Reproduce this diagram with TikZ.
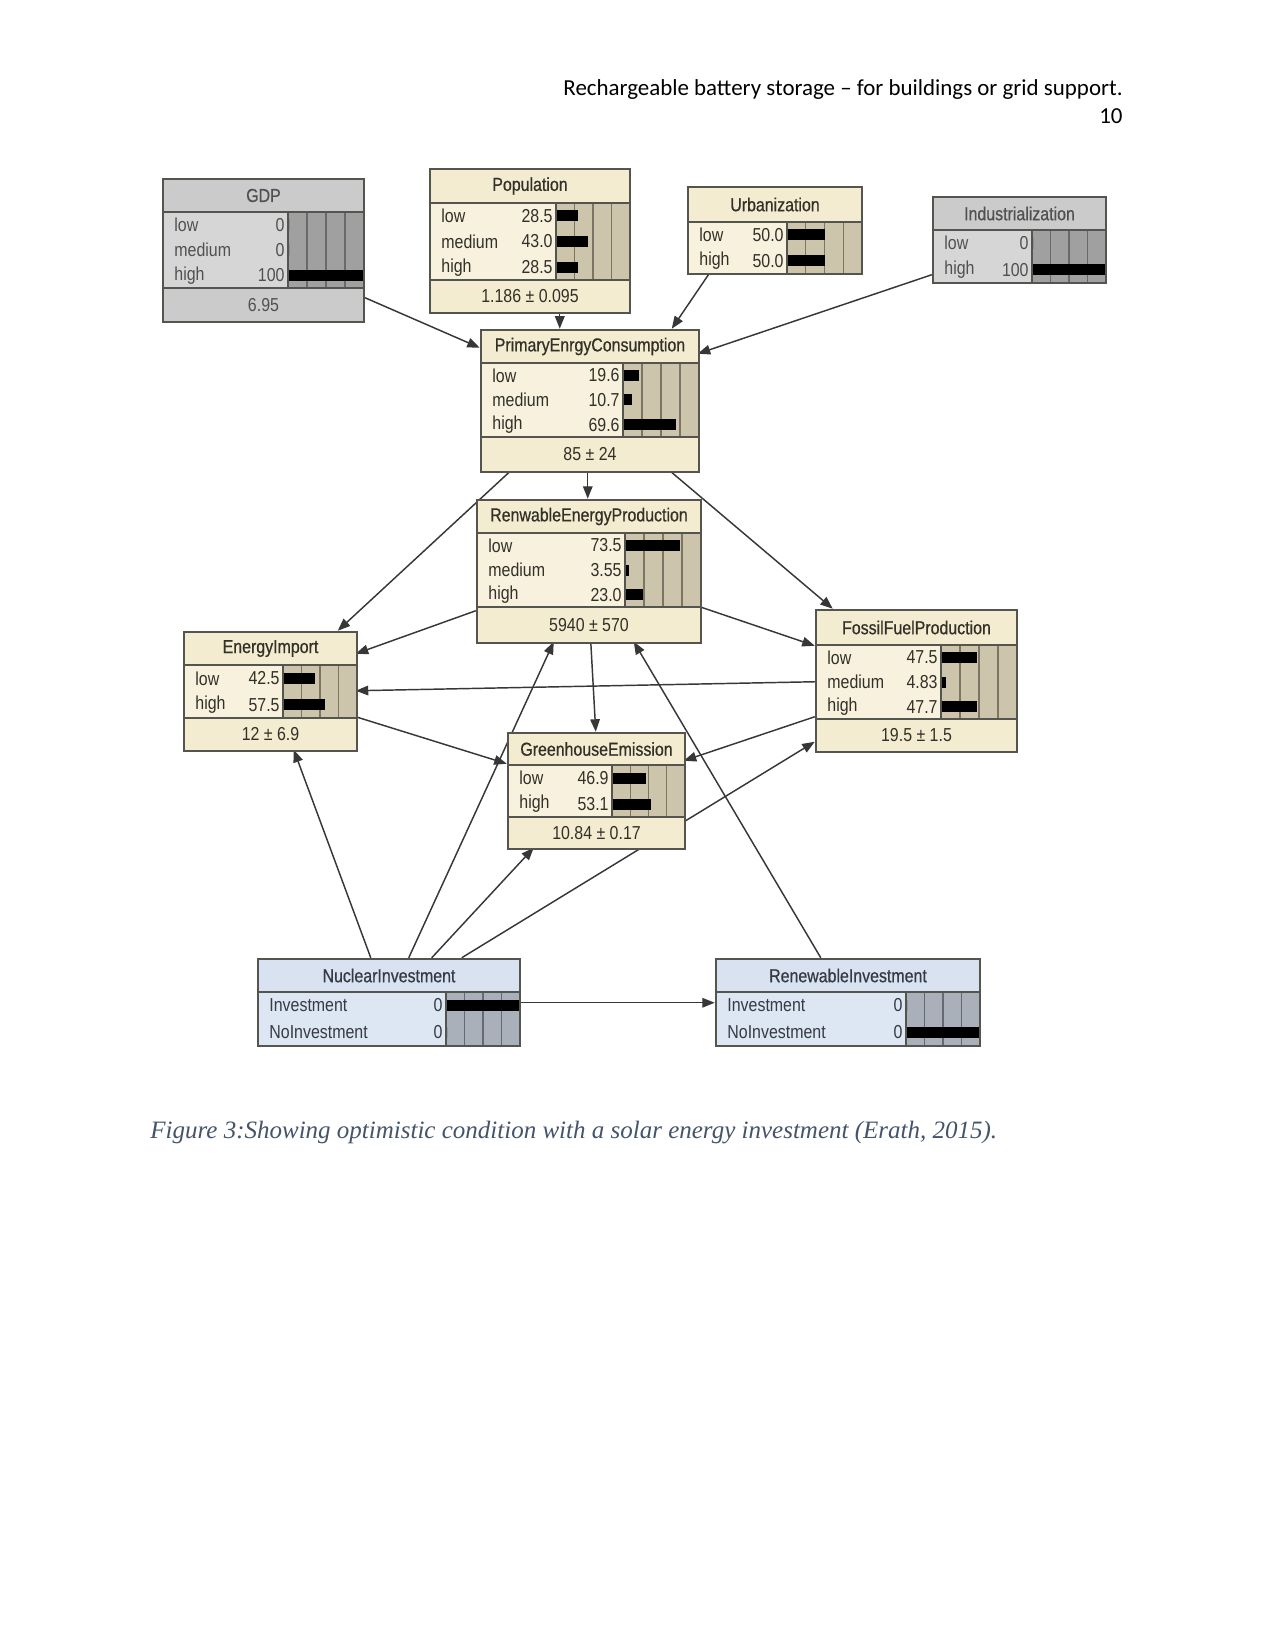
\documentclass[tikz,border=0pt]{standalone}
\usepackage{fontspec}
\usetikzlibrary{fit,calc,arrows.meta}
\newfontfamily\netfont[FakeStretch=0.85]{Liberation Sans}
\newfontfamily\netfontb[FakeStretch=0.85,FakeBold=0.6]{Liberation Sans}
\newfontfamily\hdrfont{Carlito}
\newfontfamily\capfont{Liberation Serif}
\definecolor{beigeT}{RGB}{244,236,208}
\definecolor{beigeD}{RGB}{247,241,222}
\definecolor{beigeB}{RGB}{205,196,172}
\definecolor{beigeL}{RGB}{125,117,100}
\definecolor{beigeX}{RGB}{50,48,40}
\definecolor{grayT}{RGB}{203,203,203}
\definecolor{grayD}{RGB}{214,214,214}
\definecolor{grayB}{RGB}{160,160,160}
\definecolor{grayL}{RGB}{105,105,105}
\definecolor{grayX}{RGB}{80,80,80}
\definecolor{blueT}{RGB}{216,226,240}
\definecolor{blueD}{RGB}{221,230,243}
\definecolor{blueB}{RGB}{170,176,186}
\definecolor{blueL}{RGB}{100,105,115}
\definecolor{blueX}{RGB}{55,58,66}
\definecolor{cframe}{RGB}{85,85,80}
\definecolor{cline}{RGB}{55,55,55}
\definecolor{capcol}{RGB}{68,84,106}
\pgfdeclarelayer{paper}
\pgfdeclarelayer{bg}
\pgfsetlayers{paper,bg,main}
\newcommand\schemebeige{\colorlet{ctitle}{beigeT}\colorlet{cdata}{beigeD}\colorlet{cbar}{beigeB}\colorlet{cbarline}{beigeL}\colorlet{ctext}{beigeX}}
\newcommand\schemegray{\colorlet{ctitle}{grayT}\colorlet{cdata}{grayD}\colorlet{cbar}{grayB}\colorlet{cbarline}{grayL}\colorlet{ctext}{grayX}}
\newcommand\schemeblue{\colorlet{ctitle}{blueT}\colorlet{cdata}{blueD}\colorlet{cbar}{blueB}\colorlet{cbarline}{blueL}\colorlet{ctext}{blueX}}
% #1 name #2 x0 #3 y0 #4 x1 #5 ytitle #6 ydata #7 ybottom #8 xbar #9 title
\newcommand\bnframe[9]{%
  \fill[ctitle] (#2,#3) rectangle (#4,#5);
  \fill[cdata] (#2,#5) rectangle (#8,#6);
  \fill[cbar] (#8,#5) rectangle (#4,#6);
  \fill[ctitle] (#2,#6) rectangle (#4,#7);
  \foreach \f in {0.25,0.5,0.75}{\draw[cbarline, line width=0.7pt] ({#8+(#4-#8)*\f},#5) -- ({#8+(#4-#8)*\f},#6);}
  \draw[cframe, line width=1pt] (#2,#5) -- (#4,#5) (#2,#6) -- (#4,#6) (#8,#5) -- (#8,#6);
  \node[bnttl] at ({(#2+#4)/2},{(#3+#5)/2}) {#9};
  \node[draw=cframe, line width=1.2pt, inner sep=0pt, fit={(#2,#3) (#4,#7)}] (#1) {};
}
% #1 x0 #2 xbar #3 x1 #4 yc #5 label #6 value #7 frac
\newcommand\bnrow[7]{%
  \node[bnlbl, anchor=west] at ({#1+11},#4) {#5};
  \node[bnlbl, anchor=east] at ({#2-3},#4) {#6};
  \fill[black] ({#2+1},{#4-5.5}) rectangle ({#2+1+(#3-#2-2)*#7},{#4+5.5});
}
\tikzset{
  bnttl/.style={font=\netfontb\fontsize{9}{10}\selectfont, text=ctext, inner sep=0pt},
  bnlbl/.style={font=\netfont\fontsize{9}{10}\selectfont, text=ctext, inner sep=0pt},
  conn/.style={draw=cline, line width=0.7pt, -{Triangle[length=6pt,width=4.6pt]}}
}
\begin{document}
\begin{tikzpicture}[x=0.48pt,y=-0.48pt]
\begin{pgfonlayer}{paper}
\fill[white] (0,0) rectangle (1275,1650);
\end{pgfonlayer}
\useasboundingbox (0,0) rectangle (1275,1650);

\node[anchor=base east, font=\hdrfont\fontsize{11}{13}\selectfont, inner sep=0pt] (hdr) at (1123,96) {Rechargeable battery storage – for buildings or grid support.};
\node[anchor=base east, font=\hdrfont\fontsize{11}{13}\selectfont, inner sep=0pt] (pagenum) at (1123,124) {10};

% GDP
\schemegray
\bnframe{gdp}{163}{179}{364}{212}{288}{322}{288}{GDP}
\bnrow{163}{288}{364}{224.7}{low}{0}{0}
\bnrow{163}{288}{364}{250}{medium}{0}{0}
\bnrow{163}{288}{364}{275.3}{high}{100}{1}
\node[bnlbl] (gdpm) at (263.5,305) {6.95};

% Population
\schemebeige
\bnframe{pop}{430}{169}{630}{203}{280}{313}{556}{Population}
\bnrow{430}{556}{630}{215.8}{low}{28.5}{0.285}
\bnrow{430}{556}{630}{241.5}{medium}{43.0}{0.43}
\bnrow{430}{556}{630}{267.2}{high}{28.5}{0.285}
\node[bnlbl] (popm) at (530,296.5) {1.186 ± 0.095};

% Urbanization
\bnframe{urb}{688}{187}{862}{222}{274}{274}{787}{Urbanization}
\bnrow{688}{787}{862}{235}{low}{50.0}{0.5}
\bnrow{688}{787}{862}{261}{high}{50.0}{0.5}

% Industrialization
\schemegray
\bnframe{ind}{933}{197}{1106}{230}{283}{283}{1032}{Industrialization}
\bnrow{933}{1032}{1106}{243.3}{low}{0}{0}
\bnrow{933}{1032}{1106}{269.8}{high}{100}{1}

% PrimaryEnrgyConsumption
\schemebeige
\bnframe{pec}{481}{330}{699}{363}{437}{472}{623}{PrimaryEnrgyConsumption}
\bnrow{481}{623}{699}{375.3}{low}{19.6}{0.196}
\bnrow{481}{623}{699}{400}{medium}{10.7}{0.107}
\bnrow{481}{623}{699}{424.7}{high}{69.6}{0.696}
\node[bnlbl] (pecm) at (590,454.5) {85 ± 24};

% RenwableEnergyProduction
\bnframe{rep}{477}{500}{701}{533}{607}{643}{625}{RenwableEnergyProduction}
\bnrow{477}{625}{701}{545.3}{low}{73.5}{0.735}
\bnrow{477}{625}{701}{570}{medium}{3.55}{0.0355}
\bnrow{477}{625}{701}{594.7}{high}{23.0}{0.23}
\node[bnlbl] (repm) at (589,625) {5940 ± 570};

% EnergyImport
\bnframe{ei}{184}{632}{357}{665}{718}{751}{283}{EnergyImport}
\bnrow{184}{283}{357}{678.3}{low}{42.5}{0.425}
\bnrow{184}{283}{357}{704.8}{high}{57.5}{0.575}
\node[bnlbl] (eim) at (270.5,734.5) {12 ± 6.9};

% FossilFuelProduction
\bnframe{ffp}{816}{610}{1017}{645}{719}{752}{941}{FossilFuelProduction}
\bnrow{816}{941}{1017}{657.3}{low}{47.5}{0.475}
\bnrow{816}{941}{1017}{682}{medium}{4.83}{0.0483}
\bnrow{816}{941}{1017}{706.7}{high}{47.7}{0.477}
\node[bnlbl] (ffpm) at (916.5,735.5) {19.5 ± 1.5};

% GreenhouseEmission
\bnframe{ghe}{508}{733}{685}{765}{817}{849}{612}{GreenhouseEmission}
\bnrow{508}{612}{685}{778}{low}{46.9}{0.469}
\bnrow{508}{612}{685}{804}{high}{53.1}{0.531}
\node[bnlbl] (ghem) at (596.5,833) {10.84 ± 0.17};

% NuclearInvestment
\schemeblue
\bnframe{nuc}{258}{959}{520}{992}{1046}{1046}{446}{NuclearInvestment}
\bnrow{258}{446}{520}{1005.5}{Investment}{0}{1}
\bnrow{258}{446}{520}{1032.5}{NoInvestment}{0}{0}

% RenewableInvestment
\bnframe{ren}{716}{959}{980}{992}{1046}{1046}{906}{RenewableInvestment}
\bnrow{716}{906}{980}{1005.5}{Investment}{0}{0}
\bnrow{716}{906}{980}{1032.5}{NoInvestment}{0}{1}

\begin{pgfonlayer}{bg}
\draw[conn] ($(gdp.north west)+(201,119)$) -- ($(pec.north west)+(0,19)$);
\draw[conn] ($(pop.north west)+(131,144)$) -- ($(pec.north west)+(80,0)$);
\draw[conn] ($(urb.north west)+(23,87)$) -- ($(pec.north west)+(192,0)$);
\draw[conn] ($(ind.north west)+(0,79)$) -- ($(pec.north west)+(218,25)$);
\draw[conn] ($(pec.north west)+(108,142)$) -- ($(rep.north west)+(112,0)$);
\draw[conn] ($(pec.north west)+(31,142)$) -- ($(ei.north west)+(155,0)$);
\draw[conn] ($(pec.north west)+(190,142)$) -- ($(ffp.north west)+(18,0)$);
\draw[conn] ($(rep.north west)+(0,112)$) -- ($(ei.north west)+(173,23)$);
\draw[conn] ($(rep.north west)+(224,108)$) -- ($(ffp.north west)+(0,37)$);
\draw[conn] ($(ffp.north west)+(0,73)$) -- ($(ei.north west)+(173,60)$);
\draw[conn] ($(ei.north west)+(173,86)$) -- ($(ghe.north west)+(0,32)$);
\draw[conn] ($(ffp.north west)+(0,108)$) -- ($(ghe.north west)+(177,29)$);
\draw[conn] ($(rep.north west)+(115,143)$) -- ($(ghe.north west)+(89,0)$);
\draw[conn] ($(nuc.north west)+(205,0)$) -- ($(ffp.north west)+(0,133)$);
\draw[conn] ($(nuc.north west)+(114,0)$) -- ($(ei.north west)+(111,119)$);
\draw[conn] ($(nuc.north west)+(152,0)$) -- ($(rep.north west)+(78,143)$);
\draw[conn] ($(nuc.north west)+(175,0)$) -- ($(ghe.north west)+(27,116)$);
\draw[conn] ($(ren.north west)+(106,0)$) -- ($(rep.north west)+(158,143)$);
\draw[conn] ($(nuc.north west)+(262,45)$) -- ($(ren.north west)+(0,45)$);
\end{pgfonlayer}

\node[anchor=base west, font=\capfont\itshape\fontsize{12}{14}\selectfont, text=capcol, inner sep=0pt] (cap) at (150,1138) {Figure 3:Showing optimistic condition with a solar energy investment (Erath, 2015).};
\end{tikzpicture}
\end{document}
